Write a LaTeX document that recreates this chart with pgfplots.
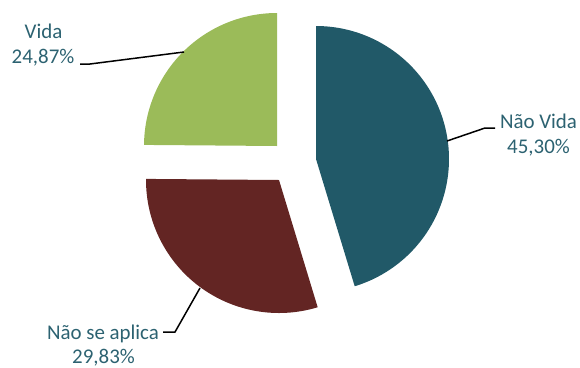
\documentclass[border=0pt]{standalone}
\usepackage{pgfplots}
\pgfplotsset{compat=1.18}
\usepackage{fontspec}
\setmainfont{Carlito}
\definecolor{nv}{HTML}{215968}
\definecolor{nsa}{HTML}{632523}
\definecolor{vida}{HTML}{9BBB59}
\definecolor{lbl}{RGB}{44,98,113}
\begin{document}
\begin{tikzpicture}
% data (percent)
\pgfmathsetmacro{\vNV}{45.30}
\pgfmathsetmacro{\vNSA}{29.83}
\pgfmathsetmacro{\vV}{24.87}
\pgfmathsetmacro{\aA}{90}
\pgfmathsetmacro{\aB}{90-3.6*\vNV}
\pgfmathsetmacro{\aC}{\aB-3.6*\vNSA}
\pgfmathsetmacro{\aD}{\aC-3.6*\vV}
\def\R{133}
\begin{axis}[scale only axis, width=580bp, height=367bp,
  xmin=0, xmax=580, ymin=0, ymax=367, y dir=reverse,
  hide axis, clip=false]
\path (axis cs:0,0) (axis cs:580,367);
% slices
\addplot[fill=nv, draw=none, domain=\aB:\aA, samples=120, variable=\t]
  ({316+\R*cos(\t)},{159-\R*sin(\t)}) -- (axis cs:316,159) -- cycle;
\addplot[fill=nsa, draw=none, domain=\aC:\aB, samples=90, variable=\t]
  ({279+\R*cos(\t)},{180-\R*sin(\t)}) -- (axis cs:279,180) -- cycle;
\addplot[fill=vida, draw=none, domain=\aD:\aC, samples=80, variable=\t]
  ({277+\R*cos(\t)},{146-\R*sin(\t)}) -- (axis cs:277,146) -- cycle;
% leader lines
\addplot[black, line width=1.5bp, mark=none] coordinates {(447,141) (485,128) (495,128)};
\addplot[black, line width=1.5bp, mark=none] coordinates {(80,64) (90,64) (184,52)};
\addplot[black, line width=1.5bp, mark=none] coordinates {(163,332) (175,332) (200,288)};
% labels
\begin{scope}[every node/.style={text=lbl, anchor=base, inner sep=0pt, font=\fontsize{21}{25}\selectfont}]
\node at (axis cs:538.5,128) {Não Vida};
\node at (axis cs:538.5,153) {45,30\%};
\node at (axis cs:43.5,38) {Vida};
\node at (axis cs:43,63) {24,87\%};
\node at (axis cs:103,339) {Não se aplica};
\node at (axis cs:103.5,363) {29,83\%};
\end{scope}
\end{axis}
\end{tikzpicture}
\end{document}
